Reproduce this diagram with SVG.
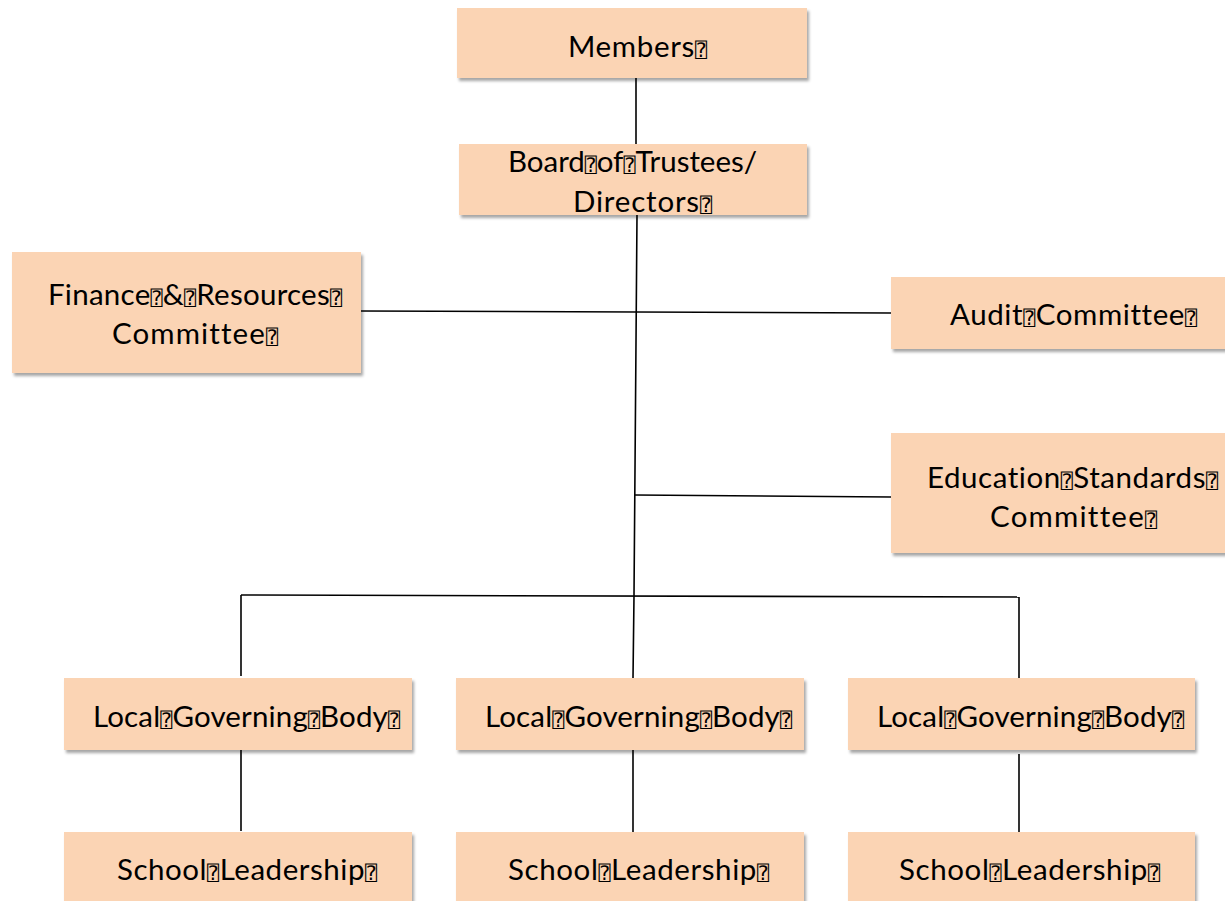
<svg xmlns="http://www.w3.org/2000/svg" width="1225" height="901" viewBox="0 0 1225 901">
<defs>
<filter id="sh" x="-5%" y="-10%" width="115%" height="130%">
<feDropShadow dx="2" dy="3" stdDeviation="1.5" flood-color="#000" flood-opacity="0.35"/>
</filter>
<style>
.box{fill:#FBD4B4;filter:url(#sh)}
.lbl{font-family:Lato,"Liberation Sans",sans-serif;font-size:29.5px;fill:#000;font-variant-ligatures:none}
.t{font-family:"DejaVu Sans Mono","DejaVu Sans",monospace;font-size:20px}
.c{stroke:#000;stroke-width:1.6;fill:none}
</style>
</defs>
<rect width="1225" height="901" fill="#fff"/>
<g id="connectors">
<line class="c" x1="636" y1="78" x2="636" y2="144"/>
<polyline class="c" points="637,215 634,596 633,678"/>
<line class="c" x1="361" y1="311" x2="891" y2="313"/>
<line class="c" x1="635" y1="495" x2="891" y2="497"/>
<line class="c" x1="241" y1="595" x2="1019" y2="597"/>
<line class="c" x1="241" y1="595" x2="241" y2="676"/>
<line class="c" x1="1019" y1="597" x2="1019" y2="678"/>
<line class="c" x1="241" y1="750" x2="241" y2="831"/>
<line class="c" x1="633" y1="749" x2="633" y2="832"/>
<line class="c" x1="1019" y1="754" x2="1019" y2="835"/>
</g>
<g id="members">
<rect class="box" x="457" y="8" width="350" height="70"/>
<text class="lbl" x="568" y="57" textLength="139" lengthAdjust="spacing">Members<tspan class="t">⍰</tspan></text>
</g>
<g id="board">
<rect class="box" x="459" y="144" width="348" height="71"/>
<text class="lbl" x="508" y="172" textLength="249" lengthAdjust="spacing">Board<tspan class="t">⍰</tspan>of<tspan class="t">⍰</tspan>Trustees/</text>
<text class="lbl" x="573" y="212" textLength="139" lengthAdjust="spacing">Directors<tspan class="t">⍰</tspan></text>
</g>
<g id="finance">
<rect class="box" x="12" y="252" width="349" height="121"/>
<text class="lbl" x="48" y="305" textLength="294" lengthAdjust="spacing">Finance<tspan class="t">⍰</tspan>&amp;<tspan class="t">⍰</tspan>Resources<tspan class="t">⍰</tspan></text>
<text class="lbl" x="112" y="344" textLength="166" lengthAdjust="spacing">Committee<tspan class="t">⍰</tspan></text>
</g>
<g id="audit">
<rect class="box" x="891" y="277" width="350" height="72"/>
<text class="lbl" x="950" y="325" textLength="247" lengthAdjust="spacing">Audit<tspan class="t">⍰</tspan>Committee<tspan class="t">⍰</tspan></text>
</g>
<g id="education">
<rect class="box" x="891" y="433" width="350" height="120"/>
<text class="lbl" x="927" y="488" textLength="291" lengthAdjust="spacing">Education<tspan class="t">⍰</tspan>Standards<tspan class="t">⍰</tspan></text>
<text class="lbl" x="990" y="527" textLength="167" lengthAdjust="spacing">Committee<tspan class="t">⍰</tspan></text>
</g>
<g id="lgb1">
<rect class="box" x="64" y="678" width="348" height="72"/>
<text class="lbl" x="93" y="727" textLength="307" lengthAdjust="spacing">Local<tspan class="t">⍰</tspan>Governing<tspan class="t">⍰</tspan>Body<tspan class="t">⍰</tspan></text>
</g>
<g id="lgb2">
<rect class="box" x="456" y="678" width="348" height="72"/>
<text class="lbl" x="485" y="727" textLength="307" lengthAdjust="spacing">Local<tspan class="t">⍰</tspan>Governing<tspan class="t">⍰</tspan>Body<tspan class="t">⍰</tspan></text>
</g>
<g id="lgb3">
<rect class="box" x="848" y="678" width="347" height="72"/>
<text class="lbl" x="877" y="727" textLength="307" lengthAdjust="spacing">Local<tspan class="t">⍰</tspan>Governing<tspan class="t">⍰</tspan>Body<tspan class="t">⍰</tspan></text>
</g>
<g id="school1">
<rect class="box" x="64" y="832" width="348" height="80"/>
<text class="lbl" x="117" y="880" textLength="260" lengthAdjust="spacing">School<tspan class="t">⍰</tspan>Leadership<tspan class="t">⍰</tspan></text>
</g>
<g id="school2">
<rect class="box" x="456" y="832" width="348" height="80"/>
<text class="lbl" x="508" y="880" textLength="261" lengthAdjust="spacing">School<tspan class="t">⍰</tspan>Leadership<tspan class="t">⍰</tspan></text>
</g>
<g id="school3">
<rect class="box" x="848" y="832" width="347" height="80"/>
<text class="lbl" x="899" y="880" textLength="261" lengthAdjust="spacing">School<tspan class="t">⍰</tspan>Leadership<tspan class="t">⍰</tspan></text>
</g>
</svg>
